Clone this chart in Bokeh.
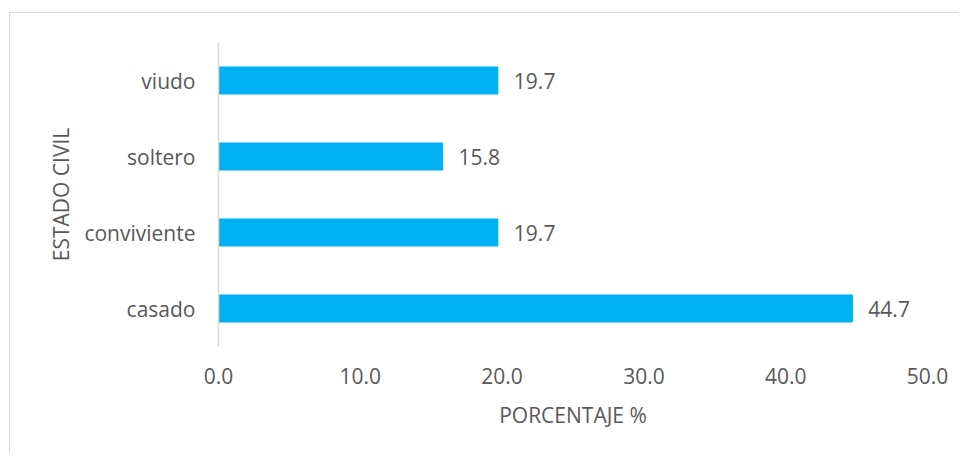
from bokeh.plotting import figure
from bokeh.models import ColumnDataSource, FactorRange, Range1d, FixedTicker, NumeralTickFormatter
from bokeh.core.properties import value
from bokeh.embed import file_html
from bokeh.resources import INLINE

categories = ["casado", "conviviente", "soltero", "viudo"]
percentages = [44.7, 19.7, 15.8, 19.7]
x_ticks = [0, 10, 20, 30, 40, 50]
x_title = "PORCENTAJE %"
y_title = "ESTADO CIVIL"

FONT = "Open Sans"
TXT = "#595959"
BAR = "#00B0F0"

source = ColumnDataSource(dict(
    cat=categories,
    val=percentages,
    lab=["%.1f" % v for v in percentages],
))

p = figure(
    width=950, height=440,
    y_range=FactorRange(*categories, range_padding=0),
    x_range=Range1d(0, 50),
    output_backend="svg", toolbar_location=None,
    min_border_left=208, min_border_right=33, min_border_top=29, min_border_bottom=107,
)
p.styles = {"border-left": "1px solid #D9D9D9", "border-top": "1px solid #D9D9D9",
            "margin-left": "9px", "margin-top": "12px"}

p.hbar(y="cat", right="val", left=0, height=0.355, source=source,
       fill_color=BAR, line_color=BAR)

p.text(x="val", y="cat", text="lab", source=source, x_offset=16,
       text_align="left", text_baseline="middle",
       text_font=value(FONT), text_font_size="21px", text_color=TXT)

p.outline_line_color = None
p.xgrid.grid_line_color = None
p.ygrid.grid_line_color = None

xa = p.xaxis[0]
xa.ticker = FixedTicker(ticks=x_ticks)
xa.formatter = NumeralTickFormatter(format="0.0")
xa.axis_line_color = None
xa.major_tick_line_color = None
xa.minor_tick_line_color = None
xa.major_label_standoff = 15
xa.major_label_text_font = FONT
xa.major_label_text_font_size = "21px"
xa.major_label_text_color = TXT
xa.axis_label = x_title
xa.axis_label_text_font = FONT
xa.axis_label_text_font_size = "21px"
xa.axis_label_text_font_style = "normal"
xa.axis_label_text_color = TXT
xa.axis_label_standoff = 14

ya = p.yaxis[0]
ya.axis_line_color = "#D9D9D9"
ya.axis_line_width = 1.5
ya.major_tick_line_color = None
ya.minor_tick_line_color = None
ya.major_label_standoff = 17
ya.major_label_text_font = FONT
ya.major_label_text_font_size = "21px"
ya.major_label_text_color = TXT
ya.axis_label = y_title
ya.axis_label_text_font = FONT
ya.axis_label_text_font_size = "21px"
ya.axis_label_text_font_style = "normal"
ya.axis_label_text_color = TXT
ya.axis_label_standoff = 6

open("out.html", "w").write(file_html(p, INLINE))
